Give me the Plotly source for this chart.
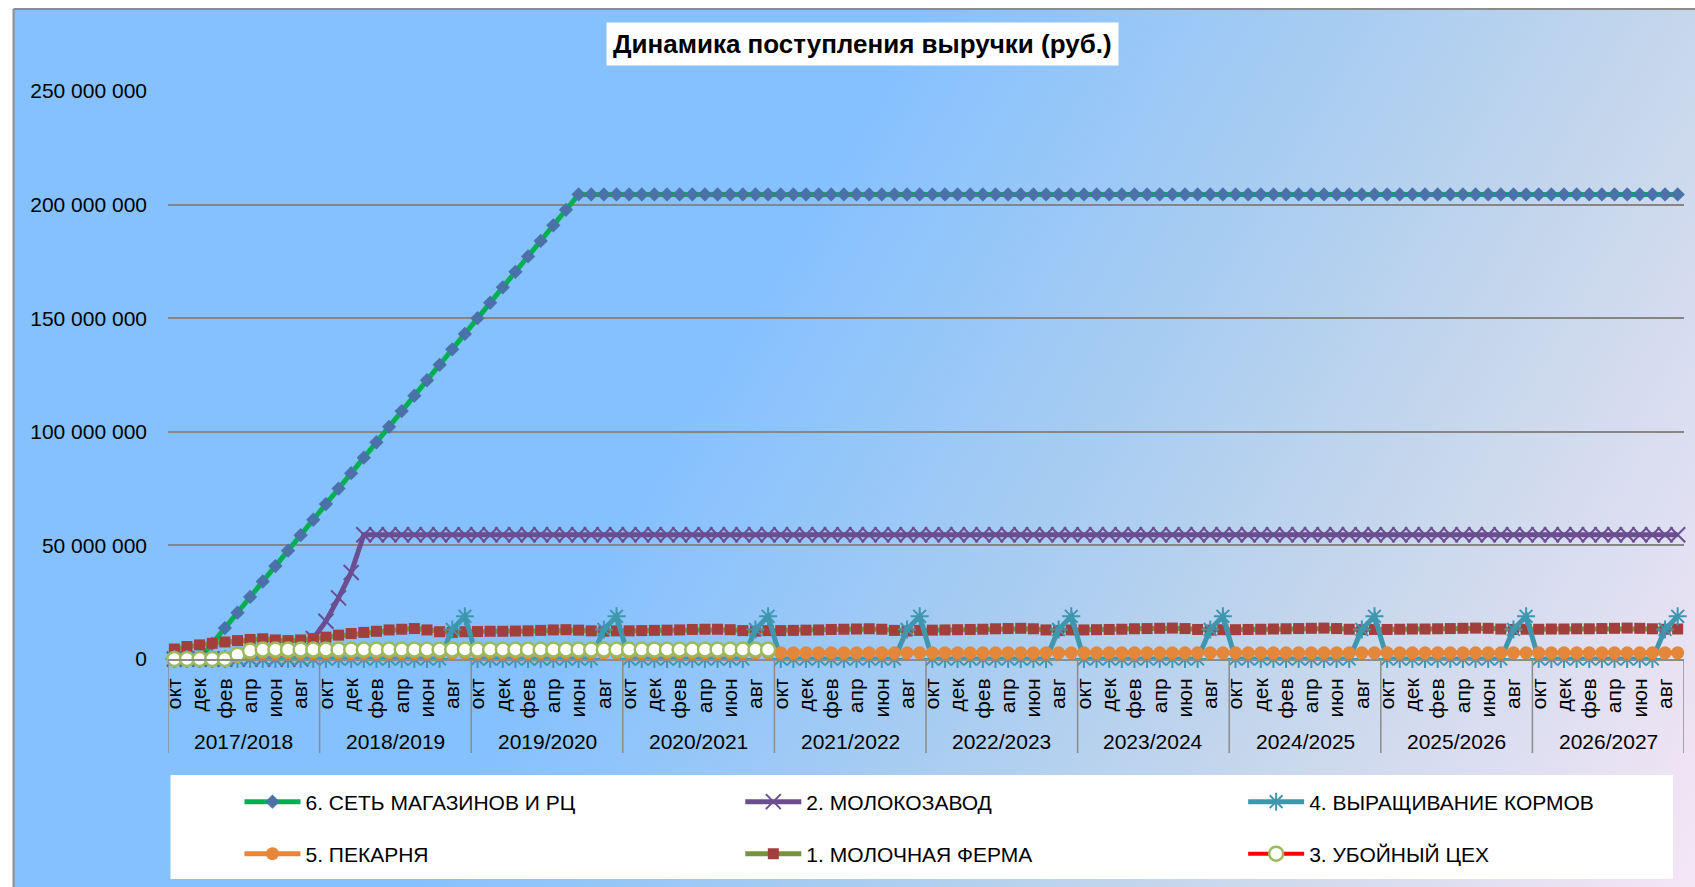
import base64
import plotly.graph_objects as go

# ---------------- DATA (values in millions of rubles) ----------------
MONTHS = ["окт", "ноя", "дек", "янв", "фев", "мар", "апр", "май", "июн", "июл", "авг", "сен"]
YEARS = ["2017/2018", "2018/2019", "2019/2020", "2020/2021", "2021/2022",
         "2022/2023", "2023/2024", "2024/2025", "2025/2026", "2026/2027"]
Y_TICKS = [0, 50, 100, 150, 200, 250]
Y_TICK_LABELS = ["0", "50 000 000", "100 000 000", "150 000 000", "200 000 000", "250 000 000"]

# 6. СЕТЬ МАГАЗИНОВ И РЦ
SET_RC = [
    0, 0, 0, 6.8, 13.6, 20.4, 27.3, 34.1, 40.9, 47.7, 54.5, 61.3,
    68.2, 75.0, 81.8, 88.6, 95.4, 102.2, 109.1, 115.9, 122.7, 129.5, 136.3, 143.1,
    150.0, 156.8, 163.6, 170.4, 177.2, 184.0, 190.9, 197.7, 204.5, 204.5, 204.5, 204.5,
    204.5, 204.5, 204.5, 204.5, 204.5, 204.5, 204.5, 204.5, 204.5, 204.5, 204.5, 204.5,
    204.5, 204.5, 204.5, 204.5, 204.5, 204.5, 204.5, 204.5, 204.5, 204.5, 204.5, 204.5,
    204.5, 204.5, 204.5, 204.5, 204.5, 204.5, 204.5, 204.5, 204.5, 204.5, 204.5, 204.5,
    204.5, 204.5, 204.5, 204.5, 204.5, 204.5, 204.5, 204.5, 204.5, 204.5, 204.5, 204.5,
    204.5, 204.5, 204.5, 204.5, 204.5, 204.5, 204.5, 204.5, 204.5, 204.5, 204.5, 204.5,
    204.5, 204.5, 204.5, 204.5, 204.5, 204.5, 204.5, 204.5, 204.5, 204.5, 204.5, 204.5,
    204.5, 204.5, 204.5, 204.5, 204.5, 204.5, 204.5, 204.5, 204.5, 204.5, 204.5, 204.5,
]

# 2. МОЛОКОЗАВОД
MOLOKOZAVOD = [
    0, 0, 0, 0, 0, 0, 0, 0, 0, 0, 0, 9.0,
    16.6, 26.9, 38.1, 54.7, 54.7, 54.7, 54.7, 54.7, 54.7, 54.7, 54.7, 54.7,
    54.7, 54.7, 54.7, 54.7, 54.7, 54.7, 54.7, 54.7, 54.7, 54.7, 54.7, 54.7,
    54.7, 54.7, 54.7, 54.7, 54.7, 54.7, 54.7, 54.7, 54.7, 54.7, 54.7, 54.7,
    54.7, 54.7, 54.7, 54.7, 54.7, 54.7, 54.7, 54.7, 54.7, 54.7, 54.7, 54.7,
    54.7, 54.7, 54.7, 54.7, 54.7, 54.7, 54.7, 54.7, 54.7, 54.7, 54.7, 54.7,
    54.7, 54.7, 54.7, 54.7, 54.7, 54.7, 54.7, 54.7, 54.7, 54.7, 54.7, 54.7,
    54.7, 54.7, 54.7, 54.7, 54.7, 54.7, 54.7, 54.7, 54.7, 54.7, 54.7, 54.7,
    54.7, 54.7, 54.7, 54.7, 54.7, 54.7, 54.7, 54.7, 54.7, 54.7, 54.7, 54.7,
    54.7, 54.7, 54.7, 54.7, 54.7, 54.7, 54.7, 54.7, 54.7, 54.7, 54.7, 54.7,
]

# 4. ВЫРАЩИВАНИЕ КОРМОВ
KORMA = [
    0, 0, 0, 0, 0, 0, 0, 0, 0, 0, 0, 0,
    0, 0, 0, 0, 0, 0, 0, 0, 0, 0, 13.0, 18.8,
    0, 0, 0, 0, 0, 0, 0, 0, 0, 0, 13.0, 18.8,
    0, 0, 0, 0, 0, 0, 0, 0, 0, 0, 13.0, 18.8,
    0, 0, 0, 0, 0, 0, 0, 0, 0, 0, 13.0, 18.8,
    0, 0, 0, 0, 0, 0, 0, 0, 0, 0, 13.0, 18.8,
    0, 0, 0, 0, 0, 0, 0, 0, 0, 0, 13.0, 18.8,
    0, 0, 0, 0, 0, 0, 0, 0, 0, 0, 13.0, 18.8,
    0, 0, 0, 0, 0, 0, 0, 0, 0, 0, 13.0, 18.8,
    0, 0, 0, 0, 0, 0, 0, 0, 0, 0, 13.0, 18.8,
]

# 5. ПЕКАРНЯ
PEKARNYA = [
    0, 0, 0, 0, 0, 1.0, 2.4, 2.7, 2.7, 2.7, 2.7, 2.7,
    2.7, 2.7, 2.7, 2.7, 2.7, 2.7, 2.7, 2.7, 2.7, 2.7, 2.7, 2.7,
    2.7, 2.7, 2.7, 2.7, 2.7, 2.7, 2.7, 2.7, 2.7, 2.7, 2.7, 2.7,
    2.7, 2.7, 2.7, 2.7, 2.7, 2.7, 2.7, 2.7, 2.7, 2.7, 2.7, 2.7,
    2.7, 2.7, 2.7, 2.7, 2.7, 2.7, 2.7, 2.7, 2.7, 2.7, 2.7, 2.7,
    2.7, 2.7, 2.7, 2.7, 2.7, 2.7, 2.7, 2.7, 2.7, 2.7, 2.7, 2.7,
    2.7, 2.7, 2.7, 2.7, 2.7, 2.7, 2.7, 2.7, 2.7, 2.7, 2.7, 2.7,
    2.7, 2.7, 2.7, 2.7, 2.7, 2.7, 2.7, 2.7, 2.7, 2.7, 2.7, 2.7,
    2.7, 2.7, 2.7, 2.7, 2.7, 2.7, 2.7, 2.7, 2.7, 2.7, 2.7, 2.7,
    2.7, 2.7, 2.7, 2.7, 2.7, 2.7, 2.7, 2.7, 2.7, 2.7, 2.7, 2.7,
]

# 1. МОЛОЧНАЯ ФЕРМА
FERMA = [
    4.4, 5.5, 6.2, 6.9, 7.5, 8.1, 8.6, 8.9, 8.4, 8.1, 8.4, 9.0,
    9.6, 10.5, 11.2, 11.7, 12.2, 12.8, 13.1, 13.4, 12.8, 12.0, 11.7, 12.0,
    12.1, 12.2, 12.2, 12.3, 12.4, 12.6, 12.8, 12.9, 12.7, 12.4, 12.2, 12.4,
    12.4, 12.5, 12.6, 12.7, 12.8, 13.0, 13.1, 13.1, 12.9, 12.5, 12.2, 12.5,
    12.5, 12.6, 12.7, 12.8, 13.0, 13.1, 13.2, 13.3, 13.1, 12.6, 12.3, 12.6,
    12.7, 12.8, 12.9, 13.0, 13.1, 13.3, 13.4, 13.5, 13.3, 12.8, 12.5, 12.8,
    12.8, 12.9, 13.0, 13.1, 13.3, 13.4, 13.5, 13.6, 13.4, 13.0, 12.7, 12.9,
    12.9, 13.0, 13.1, 13.2, 13.3, 13.4, 13.5, 13.6, 13.4, 13.1, 12.9, 13.0,
    13.0, 13.1, 13.2, 13.2, 13.3, 13.4, 13.5, 13.6, 13.5, 13.2, 13.0, 13.1,
    13.1, 13.2, 13.2, 13.3, 13.3, 13.4, 13.5, 13.6, 13.5, 13.3, 13.1, 13.2,
]

# 3. УБОЙНЫЙ ЦЕХ (no data after 2020/2021)
UBOINY = [
    0, 0, 0, 0, 0, 1.9, 3.7, 4.2, 4.2, 4.2, 4.2, 4.2,
    4.2, 4.2, 4.2, 4.2, 4.2, 4.2, 4.2, 4.2, 4.2, 4.2, 4.2, 4.2,
    4.2, 4.2, 4.2, 4.2, 4.2, 4.2, 4.2, 4.2, 4.2, 4.2, 4.2, 4.2,
    4.2, 4.2, 4.2, 4.2, 4.2, 4.2, 4.2, 4.2, 4.2, 4.2, 4.2, 4.2,
] + [None] * 72

# ---------------- LAYOUT GEOMETRY ----------------
W, H = 1695, 887
L, R, T, B = 167.5, 11, 91, 228
PW, PH = W - L - R, H - T - B


def pxx(px):
    return (px - L) / PW


def pxy(py):
    return (H - B - py) / PH


N = len(SET_RC)
x = list(range(N))
tickvals = [i for i in x if i % 2 == 0]
ticktext = [MONTHS[i % 12] for i in tickvals]

FONT = "Liberation Sans, Arial, sans-serif"
ITEM_W = 56  # legend symbol line length

# legend slots: (text-start x px, row centre y px)
LEG_SLOTS = {
    "legend": (307, 802), "legend2": (808, 802), "legend3": (1311, 802),
    "legend4": (307, 854), "legend5": (808, 854), "legend6": (1311, 854),
}

fig = go.Figure()


def add(name, y, line, marker, legend):
    fig.add_trace(go.Scatter(
        x=x, y=y, name=name, mode="lines+markers", line=line, marker=marker,
        cliponaxis=False, legend=legend, connectgaps=False, hoverinfo="skip"))


add("6. СЕТЬ МАГАЗИНОВ И РЦ", SET_RC,
    dict(color="#00B050", width=5),
    dict(symbol="diamond", size=11, color="#4A72A8"), "legend")
add("2. МОЛОКОЗАВОД", MOLOKOZAVOD,
    dict(color="#6B4E90", width=5),
    dict(symbol="x-thin-open", size=15, line=dict(color="#6B4E90", width=2), color="#6B4E90"),
    "legend2")
add("1. МОЛОЧНАЯ ФЕРМА", FERMA,
    dict(color="#77933C", width=5),
    dict(symbol="square", size=11, color="#A23E3C"), "legend5")
add("4. ВЫРАЩИВАНИЕ КОРМОВ", KORMA,
    dict(color="#3F97AF", width=5),
    dict(symbol="asterisk-open", size=15, line=dict(color="#3F97AF", width=2), color="#3F97AF"),
    "legend3")
add("5. ПЕКАРНЯ", PEKARNYA,
    dict(color="#E5873A", width=5),
    dict(symbol="circle", size=13, color="#E5873A"), "legend4")
add("3. УБОЙНЫЙ ЦЕХ", UBOINY,
    dict(color="#FF0000", width=4),
    dict(symbol="circle", size=14, color="#FFFFFF", line=dict(color="#9BBB59", width=2.5)),
    "legend6")

# gradient background (SVG image)
GW, GH = W - 13, H - 9
svg = (
    f'<svg xmlns="http://www.w3.org/2000/svg" width="{GW}" height="{GH}" '
    f'viewBox="0 0 {GW} {GH}" preserveAspectRatio="none">'
    '<defs><linearGradient id="g" x1="0.3846" y1="0.5" x2="1.0873" y2="0.7162">'
    '<stop offset="0" stop-color="#85C1FF"/>'
    '<stop offset="0.35" stop-color="#A9CDF1"/>'
    '<stop offset="0.6" stop-color="#C6D7EC"/>'
    '<stop offset="1" stop-color="#F5E6F6"/>'
    '</linearGradient></defs>'
    f'<rect x="0" y="0" width="{GW}" height="{GH}" fill="url(#g)"/></svg>'
)
src = "data:image/svg+xml;base64," + base64.b64encode(svg.encode("utf-8")).decode("ascii")
fig.add_layout_image(dict(
    source=src, xref="paper", yref="paper", x=pxx(13), y=pxy(9),
    sizex=GW / PW, sizey=GH / PH, xanchor="left", yanchor="top",
    sizing="stretch", layer="below"))

shapes = []
shapes.append(dict(type="line", xref="paper", yref="paper", x0=pxx(13), x1=pxx(W + 5),
                   y0=pxy(9), y1=pxy(9), line=dict(color="#8C8C8C", width=2)))
shapes.append(dict(type="line", xref="paper", yref="paper", x0=pxx(13), x1=pxx(13),
                   y0=pxy(9), y1=pxy(H + 5), line=dict(color="#8C8C8C", width=2)))
shapes.append(dict(type="rect", xref="paper", yref="paper", x0=pxx(170), x1=pxx(1673),
                   y0=pxy(879), y1=pxy(775), fillcolor="white", line=dict(width=0),
                   layer="below"))
for i in range(len(YEARS) + 1):
    xv = 12 * i - 0.5
    shapes.append(dict(type="line", xref="x", yref="paper", x0=xv, x1=xv,
                       y0=0, y1=pxy(753), line=dict(color="#8C8C8C", width=1.5)))

annotations = []
for i, yr in enumerate(YEARS):
    annotations.append(dict(x=12 * i + 5.5, y=pxy(741), xref="x", yref="paper",
                            text=yr, showarrow=False, xanchor="center", yanchor="middle",
                            font=dict(size=21, color="black", family=FONT)))
annotations.append(dict(x=pxx(798 * 1695 / 1568), y=pxy(44), xref="paper", yref="paper",
                        text="<b>Динамика поступления выручки (руб.)</b>", showarrow=False,
                        xanchor="center", yanchor="middle", bgcolor="white", borderpad=6,
                        font=dict(size=26, color="black", family=FONT)))

legends = {}
for lid, (tx, ty) in LEG_SLOTS.items():
    legends[lid] = dict(orientation="h", xanchor="left", yanchor="middle",
                        x=pxx(tx - ITEM_W - 12), y=pxy(ty), itemwidth=ITEM_W,
                        bgcolor="rgba(0,0,0,0)", borderwidth=0,
                        font=dict(size=21, color="black", family=FONT))

fig.update_layout(
    width=W, height=H, autosize=False,
    margin=dict(l=L, r=R, t=T, b=B, pad=0),
    paper_bgcolor="white", plot_bgcolor="rgba(0,0,0,0)",
    font=dict(family=FONT, color="black"),
    showlegend=True,
    shapes=shapes, annotations=annotations,
    xaxis=dict(range=[-0.5, N - 0.5], tickvals=tickvals, ticktext=ticktext,
               tickangle=-90, tickfont=dict(size=21, color="black", family=FONT),
               showgrid=False, zeroline=False, showline=True, linecolor="#8C8C8C",
               linewidth=2, ticks="", ticklabelstandoff=9, fixedrange=True),
    yaxis=dict(range=[0, 250], tickvals=Y_TICKS, ticktext=Y_TICK_LABELS,
               tickfont=dict(size=21, color="black", family=FONT),
               showgrid=True, gridcolor="#868686", gridwidth=2, zeroline=False,
               showline=False, ticks="", ticklabelstandoff=20, fixedrange=True),
    **legends,
)

fig.write_html("out.html", config={"displayModeBar": False, "responsive": False},
               post_script="document.body.style.margin='0';document.body.style.overflow='hidden';")
